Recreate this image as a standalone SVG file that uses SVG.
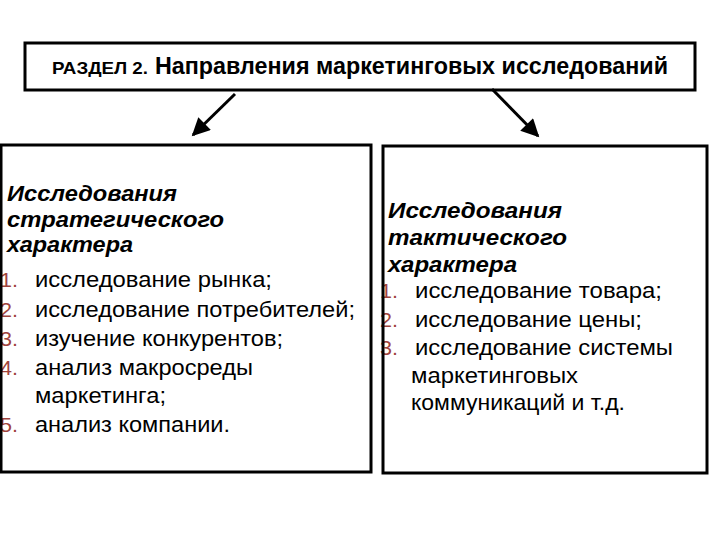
<svg xmlns="http://www.w3.org/2000/svg" width="720" height="540" viewBox="0 0 720 540">
<style>
.box{fill:none;stroke:#000;stroke-width:3}
.conn{stroke:#000;stroke-width:3;fill:none}
.title{font-family:"Liberation Sans",Arial,sans-serif;font-weight:bold;fill:#000}
.head{font-family:"Liberation Sans",Arial,sans-serif;font-weight:bold;font-style:italic;font-size:22px;fill:#000}
.item{font-family:"Liberation Sans",Arial,sans-serif;font-size:22px;fill:#000}
.num{font-family:"Liberation Sans",Arial,sans-serif;font-size:21px;fill:#a0433d}
</style>
<defs>
<marker id="ah" viewBox="0 0 10 10" refX="9" refY="5" markerWidth="7" markerHeight="6" orient="auto" markerUnits="strokeWidth">
<path d="M0,0 L10,5 L0,10 z" fill="#000"/>
</marker>
</defs>
<rect width="720" height="540" fill="#fff"/>
<g id="title-node">
<rect class="box" x="25" y="43" width="670" height="47"/>
<text class="title" x="52" y="74" font-size="17" textLength="96" lengthAdjust="spacingAndGlyphs">РАЗДЕЛ 2.</text>
<text class="title" x="155" y="74" font-size="23" textLength="513" lengthAdjust="spacingAndGlyphs">Направления маркетинговых исследований</text>
</g>
<g id="connectors">
<line class="conn" x1="235" y1="94" x2="193" y2="135" marker-end="url(#ah)"/>
<line class="conn" x1="492" y1="89" x2="538" y2="136" marker-end="url(#ah)"/>
</g>
<g id="strategic-node">
<text class="head" x="7" y="201" textLength="170" lengthAdjust="spacingAndGlyphs">Исследования</text>
<text class="head" x="7" y="227" textLength="217" lengthAdjust="spacingAndGlyphs">стратегического</text>
<text class="head" x="7" y="252" textLength="126" lengthAdjust="spacingAndGlyphs">характера</text>
<text class="num" x="0" y="287" textLength="18" lengthAdjust="spacingAndGlyphs">1.</text><text class="item" x="35" y="287" textLength="237" lengthAdjust="spacingAndGlyphs">исследование рынка;</text>
<text class="num" x="0" y="317" textLength="18" lengthAdjust="spacingAndGlyphs">2.</text><text class="item" x="35" y="317" textLength="320" lengthAdjust="spacingAndGlyphs">исследование потребителей;</text>
<text class="num" x="0" y="346" textLength="18" lengthAdjust="spacingAndGlyphs">3.</text><text class="item" x="35" y="346" textLength="248" lengthAdjust="spacingAndGlyphs">изучение конкурентов;</text>
<text class="num" x="0" y="375" textLength="18" lengthAdjust="spacingAndGlyphs">4.</text><text class="item" x="35" y="375" textLength="218" lengthAdjust="spacingAndGlyphs">анализ макросреды</text>
<text class="item" x="35" y="403" textLength="131" lengthAdjust="spacingAndGlyphs">маркетинга;</text>
<text class="num" x="0" y="432" textLength="18" lengthAdjust="spacingAndGlyphs">5.</text><text class="item" x="35" y="432" textLength="195" lengthAdjust="spacingAndGlyphs">анализ компании.</text>
<rect class="box" x="1" y="145" width="370" height="327"/>
</g>
<g id="tactical-node">
<text class="head" x="388" y="218" textLength="174" lengthAdjust="spacingAndGlyphs">Исследования</text>
<text class="head" x="388" y="245" textLength="179" lengthAdjust="spacingAndGlyphs">тактического</text>
<text class="head" x="388" y="272" textLength="129" lengthAdjust="spacingAndGlyphs">характера</text>
<text class="num" x="380" y="298" textLength="18" lengthAdjust="spacingAndGlyphs">1.</text><text class="item" x="415" y="298" textLength="247" lengthAdjust="spacingAndGlyphs">исследование товара;</text>
<text class="num" x="380" y="327" textLength="18" lengthAdjust="spacingAndGlyphs">2.</text><text class="item" x="415" y="327" textLength="227" lengthAdjust="spacingAndGlyphs">исследование цены;</text>
<text class="num" x="380" y="355" textLength="18" lengthAdjust="spacingAndGlyphs">3.</text><text class="item" x="415" y="355" textLength="258" lengthAdjust="spacingAndGlyphs">исследование системы</text>
<text class="item" x="411" y="383" textLength="167" lengthAdjust="spacingAndGlyphs">маркетинговых</text>
<text class="item" x="411" y="410" textLength="214" lengthAdjust="spacingAndGlyphs">коммуникаций и т.д.</text>
<rect class="box" x="383" y="146" width="324" height="327"/>
</g>
</svg>
